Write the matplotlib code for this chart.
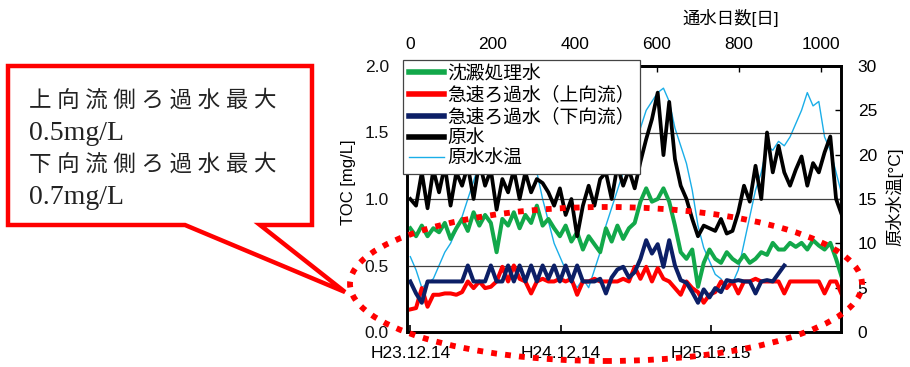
import matplotlib
matplotlib.use("Agg")
import matplotlib.pyplot as plt
from matplotlib.patches import Polygon, Ellipse
from matplotlib.lines import Line2D

plt.rcParams['font.family'] = ['Liberation Sans', 'Noto Sans CJK JP', 'DejaVu Sans']

# sampling days (elapsed days since H23.12.14)
days = [0, 14, 28, 42, 56, 70, 84, 98, 112, 126, 140, 154, 168, 182, 196, 210,
        224, 238, 252, 266, 280, 294, 308, 322, 336, 350, 364, 378, 392, 406, 420,
        434, 448, 462, 476, 490, 504, 518, 532, 546, 560, 574, 588, 602, 616, 630,
        644, 658, 672, 686, 700, 714, 728, 742, 756, 770, 784, 798, 812, 826, 840,
        854, 868, 882, 896, 910, 924, 938, 952, 966, 980, 994, 1008, 1022, 1036, 1050]

# TOC [mg/L]
settled = [0.78, 0.72, 0.80, 0.72, 0.78, 0.75, 0.82, 0.70, 0.78, 0.85, 0.76, 0.90,
           0.80, 0.88, 0.82, 0.60, 0.85, 0.80, 0.90, 0.78, 0.88, 0.82, 0.95, 0.80,
           0.85, 0.78, 0.72, 0.80, 0.68, 0.75, 0.62, 0.72, 0.66, 0.60, 0.78, 0.68,
           0.80, 0.70, 0.78, 0.82, 0.98, 1.08, 0.98, 1.00, 1.08, 0.98, 0.80, 0.60,
           0.55, 0.62, 0.34, 0.52, 0.62, 0.55, 0.52, 0.60, 0.55, 0.52, 0.58, 0.52,
           0.55, 0.60, 0.58, 0.67, 0.62, 0.62, 0.67, 0.64, 0.67, 0.62, 0.69, 0.65,
           0.62, 0.67, 0.55, 0.41]
upflow = [0.17, 0.18, 0.33, 0.19, 0.28, 0.28, 0.29, 0.29, 0.28, 0.30, 0.38, 0.33,
          0.38, 0.33, 0.34, 0.38, 0.49, 0.38, 0.50, 0.40, 0.38, 0.29, 0.38, 0.40,
          0.38, 0.38, 0.40, 0.38, 0.40, 0.28, 0.38, 0.38, 0.40, 0.38, 0.38, 0.38,
          0.38, 0.40, 0.38, 0.49, 0.40, 0.49, 0.38, 0.48, 0.40, 0.38, 0.33, 0.28,
          0.38, 0.33, 0.30, 0.22, 0.28, 0.30, 0.38, 0.33, 0.38, 0.29, 0.38, 0.38,
          0.40, 0.38, 0.38, 0.38, 0.38, 0.29, 0.38, 0.38, 0.38, 0.38, 0.38, 0.38,
          0.29, 0.38, 0.38, 0.28]
downflow = [0.38, 0.29, 0.22, 0.38, 0.38, 0.38, 0.38, 0.38, 0.38, 0.38, 0.50, 0.38,
            0.38, 0.38, 0.50, 0.38, 0.38, 0.50, 0.38, 0.50, 0.38, 0.50, 0.38, 0.50,
            0.40, 0.50, 0.38, 0.50, 0.38, 0.50, 0.38, 0.38, 0.38, 0.40, 0.29, 0.41,
            0.47, 0.49, 0.41, 0.45, 0.55, 0.69, 0.59, 0.66, 0.49, 0.69, 0.50, 0.39,
            0.37, 0.30, 0.22, 0.32, 0.26, 0.33, 0.30, 0.39, 0.38, 0.39, 0.38, 0.38,
            0.29, 0.38, 0.39, 0.38, 0.44, 0.50]
raw = [1.00, 0.95, 1.20, 0.93, 1.22, 1.05, 1.25, 0.95, 1.20, 1.10, 1.25, 1.00,
       1.28, 1.10, 1.22, 0.92, 1.15, 1.05, 1.22, 1.00, 1.20, 1.05, 1.15, 1.12,
       1.05, 0.95, 1.08, 0.88, 1.00, 0.72, 0.95, 1.10, 0.95, 1.15, 1.20, 1.00,
       1.25, 1.10, 1.22, 1.08, 1.28, 1.45, 1.60, 1.80, 1.33, 1.73, 1.30, 1.10,
       1.00, 0.85, 0.72, 0.80, 0.78, 0.76, 0.85, 0.74, 0.76, 0.90, 1.10, 0.98,
       1.25, 1.00, 1.50, 1.20, 1.40, 1.20, 1.10, 1.22, 1.32, 1.10, 1.27, 1.20,
       1.35, 1.47, 1.00, 0.88]
# raw water temperature [°C]
temp = [8.5, 7.0, 5.0, 5.5, 6.0, 7.5, 9.0, 10.0, 11.5, 13.0, 15.0, 17.0, 19.0,
        21.0, 23.0, 25.0, 26.5, 27.0, 26.0, 24.0, 22.0, 20.0, 18.0, 15.0, 12.5,
        10.0, 8.5, 7.0, 6.0, 5.0, 6.0, 5.0, 7.0, 9.0, 12.0, 14.0, 16.0, 18.0,
        20.0, 22.0, 23.0, 25.0, 26.0, 27.0, 27.5, 26.0, 23.0, 21.0, 19.0, 16.0,
        12.0, 9.5, 8.0, 6.5, 6.0, 5.0, 5.5, 7.0, 10.0, 13.0, 16.0, 18.0, 21.0,
        20.5, 21.5, 21.0, 22.0, 23.5, 25.0, 27.0, 25.5, 26.0, 22.0, 20.5, 18.0, 15.5]

date_ticks = [0, 366, 731]
date_labels = ['H23.12.14', 'H24.12.14', 'H25.12.15']
day_ticks = [0, 200, 400, 600, 800, 1000]
names = ['沈澱処理水', '急速ろ過水（上向流）', '急速ろ過水（下向流）', '原水', '原水水温']
colors = ['#12a84a', '#ff0000', '#0c1f66', '#000000', '#1aaee8']

W, H = 910, 367
fig = plt.figure(figsize=(W / 100, H / 100), dpi=100)

def fx(px):
    return px / W

def fy(py):
    return 1 - py / H

ax = fig.add_axes([fx(407), fy(332), fx(841) - fx(407), fy(66) - fy(332)])
ax2 = ax.twinx()
ax.set_zorder(ax2.get_zorder() + 1)
ax.patch.set_visible(False)

ax2.plot(days, temp, color=colors[4], lw=1.0)
ax.plot(days, settled, color=colors[0], lw=2.9)
ax.plot(days, upflow, color=colors[1], lw=2.9)
ax.plot(days[:len(downflow)], downflow, color=colors[2], lw=2.9)
ax.plot(days, raw, color=colors[3], lw=2.7)

ax.set_xlim(-8, 1048)
ax.set_ylim(0, 2.0)
ax2.set_ylim(0, 30)
ax.set_yticks([0, 0.5, 1.0, 1.5, 2.0], ['0.0', '0.5', '1.0', '1.5', '2.0'])
ax2.set_yticks([0, 5, 10, 15, 20, 25, 30])
ax.set_xticks(date_ticks, date_labels)
ax.grid(axis='y', color='#404040', lw=0.9)

ax.tick_params(axis='y', length=0, pad=13, labelsize=12.5, colors='#111111')
ax.tick_params(axis='x', direction='in', length=5, width=1.2, pad=10, labelsize=12.5)
ax2.tick_params(axis='y', direction='in', length=4, width=1, pad=12, labelsize=12.5)

top = ax.secondary_xaxis('top')
top.set_xticks(day_ticks)
top.tick_params(direction='in', length=4, width=1, pad=10, labelsize=12.5)

for a in (ax, ax2):
    for s in a.spines.values():
        s.set_linewidth(1.9)
for s in top.spines.values():
    s.set_linewidth(1.9)

fig.text(fx(731), fy(18), '通水日数[日]', fontsize=12.5, ha='center', va='center')
fig.text(fx(348), fy(182), 'TOC [mg/L]', fontsize=12, rotation=90,
         ha='center', va='center')
fig.text(fx(894), fy(197), '原水水温[°C]', fontsize=12.5, rotation=90,
         ha='center', va='center')

handles = [Line2D([], [], color=colors[i], lw=4.0) for i in range(4)]
handles.append(Line2D([], [], color=colors[4], lw=1.0))
leg = ax.legend(handles, names, loc='upper left',
                bbox_to_anchor=(fx(403), fy(60)), bbox_transform=fig.transFigure,
                fontsize=13.5, labelspacing=0.2, handlelength=1.9,
                handletextpad=0.15, borderpad=0.3, borderaxespad=0,
                fancybox=False, framealpha=1, edgecolor='#444444')
leg.get_frame().set_linewidth(0.9)
leg.set_zorder(10)

# callout balloon
pts = [(8, 66), (312, 66), (312, 225), (260, 225), (345, 292), (185, 225), (8, 225)]
balloon = Polygon([(fx(x), fy(y)) for x, y in pts], closed=True,
                  transform=fig.transFigure, facecolor='white', edgecolor='#ff0000',
                  lw=3.2, joinstyle='miter')
fig.patches.append(balloon)
callout = ['上 向 流 側 ろ 過 水 最 大', '0.5mg/L', '下 向 流 側 ろ 過 水 最 大', '0.7mg/L']
sizes = [16.2, 20, 16.2, 20]
for k, line in enumerate(callout):
    fig.text(fx(29), fy(101 + k * 32), line, fontsize=sizes[k], ha='left', va='center',
             family=['Liberation Serif', 'Noto Sans CJK JP'], color='#222222')

# dotted ellipse
ell = Ellipse((fx(606), fy(284)), fx(512), 154 / H, transform=fig.transFigure,
              fill=False, edgecolor='#ff0000', lw=4.2, linestyle=(0, (1, 1.4)),
              zorder=20)
fig.patches.append(ell)

fig.savefig('out.png', dpi=100)
